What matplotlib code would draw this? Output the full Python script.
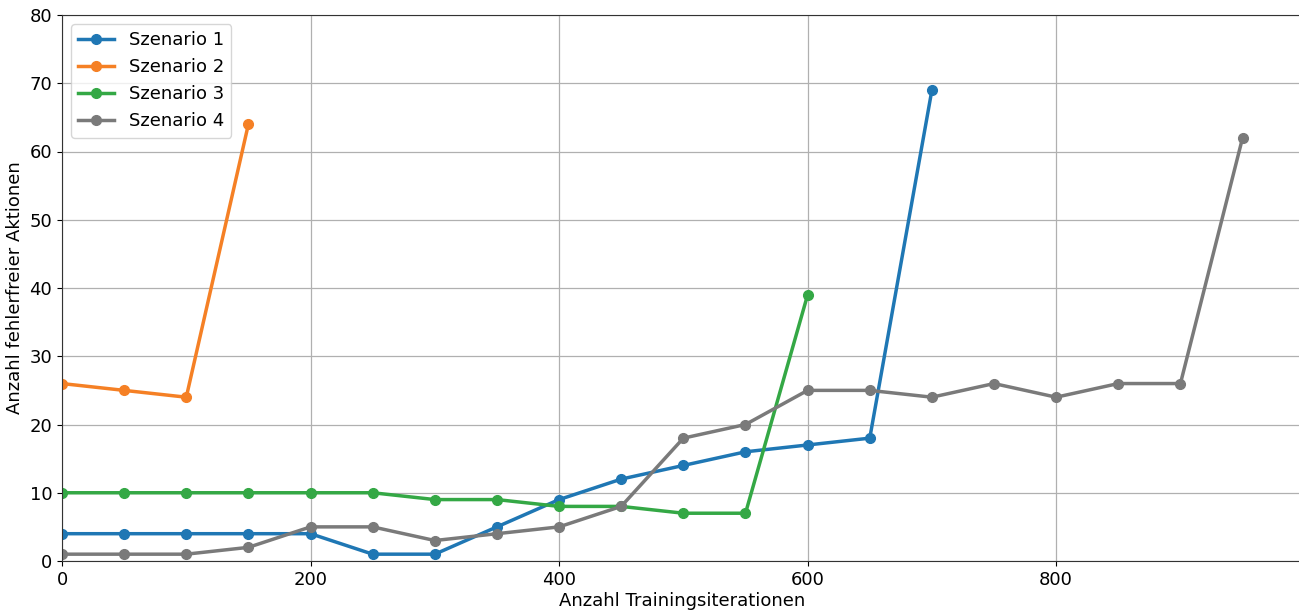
import matplotlib
matplotlib.use("Agg")
import matplotlib.pyplot as plt

x1 = [0, 50, 100, 150, 200, 250, 300, 350, 400, 450, 500, 550, 600, 650, 700]
y1 = [4, 4, 4, 4, 4, 1, 1, 5, 9, 12, 14, 16, 17, 18, 69]
x2 = [0, 50, 100, 150]
y2 = [26, 25, 24, 64]
x3 = [0, 50, 100, 150, 200, 250, 300, 350, 400, 450, 500, 550, 600]
y3 = [10, 10, 10, 10, 10, 10, 9, 9, 8, 8, 7, 7, 39]
x4 = [0, 50, 100, 150, 200, 250, 300, 350, 400, 450, 500, 550, 600, 650, 700, 750, 800, 850, 900, 950]
y4 = [1, 1, 1, 2, 5, 5, 3, 4, 5, 8, 18, 20, 25, 25, 24, 26, 24, 26, 26, 62]
labels = ["Szenario 1", "Szenario 2", "Szenario 3", "Szenario 4"]
colors = ["#1f77b4", "#f58025", "#34a845", "#7a7a7a"]

fig = plt.figure(figsize=(12.99, 6.14), dpi=100)
ax = fig.add_axes([62/1299, 53/614, (1299-62)/1299 + 0.002, 546/614])

for xs, ys, lab, c in zip([x1, x2, x3, x4], [y1, y2, y3, y4], labels, colors):
    ax.plot(xs, ys, marker="o", color=c, lw=2.5, markersize=7, label=lab)

ax.set_xlim(0, 997.5)
ax.set_ylim(0, 80)
ax.grid(True, color="#b0b0b0", lw=0.9)
ax.set_axisbelow(True)
ax.tick_params(labelsize=13)
ax.set_xticks([0, 200, 400, 600, 800])
ax.set_xlabel("Anzahl Trainingsiterationen", fontsize=13, labelpad=2)
ax.set_ylabel("Anzahl fehlerfreier Aktionen", fontsize=13)
ax.legend(loc="upper left", fontsize=13)
for s in ax.spines.values():
    s.set_color("#333333")

fig.savefig("out.png", dpi=100)
